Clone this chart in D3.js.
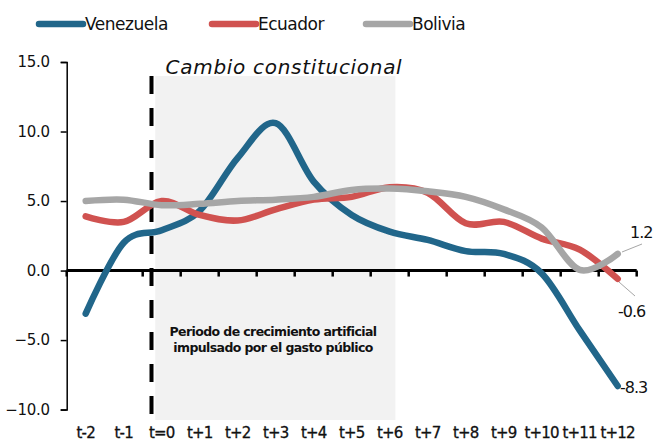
<!DOCTYPE html>
<html>
<head>
<meta charset="utf-8">
<script src="https://cdn.jsdelivr.net/npm/d3@7"></script>
<style>
  body { margin: 0; background: #fff; }
  svg { display: block; font-family: "DejaVu Sans", sans-serif; }
</style>
</head>
<body>
<div id="chart-area"></div>
<script>
// categories and series
const periods = ["t-2", "t-1", "t=0", "t+1", "t+2", "t+3", "t+4", "t+5", "t+6",
  "t+7", "t+8", "t+9", "t+10", "t+11", "t+12"];
const venezuela = [-3.1, 2.0, 2.9, 4.3, 8.1, 10.6, 6.4, 4.0, 2.8, 2.2, 1.4, 1.2, -0.2, -4.3, -8.3];
const ecuador = [3.9, 3.5, 5.0, 4.0, 3.6, 4.4, 5.1, 5.3, 6.0, 5.6, 3.4, 3.5, 2.3, 1.5, -0.6];
const bolivia = [5.0, 5.1, 4.7, 4.8, 5.0, 5.1, 5.3, 5.8, 5.9, 5.7, 5.3, 4.4, 3.1, 0.05, 1.2];
const yTicks = [-10, -5, 0, 5, 10, 15];

const series = [
  { name: "Venezuela", values: venezuela, color: "#21668a" },
  { name: "Ecuador", values: ecuador, color: "#d05250" },
  { name: "Bolivia", values: bolivia, color: "#a6a6a6" }
];

const width = 654, height = 441;

const svg = d3.select("#chart-area")
  .append("svg")
  .attr("width", width)
  .attr("height", height);

const xScale = d3.scaleBand().domain(periods).range([66.7, 636.7]);
const yScale = d3.scaleLinear().domain([-10, 15]).range([409.6, 62]);
const xc = d => xScale(d) + xScale.bandwidth() / 2;
const bw = xScale.bandwidth();

// shaded period
const shadeX0 = xc("t=0") - 0.17 * bw;
const shadeX1 = xc("t+6") + 0.15 * bw;
svg.append("rect")
  .attr("x", shadeX0)
  .attr("y", 76)
  .attr("width", shadeX1 - shadeX0)
  .attr("height", 420 - 76)
  .attr("fill", "#f2f2f2");

// y axis
const yAxis = svg.append("g")
  .attr("transform", "translate(66.7,0)")
  .call(d3.axisLeft(yScale).tickValues(yTicks).tickFormat(d3.format(".1f")).tickSize(6).tickPadding(11));
yAxis.select(".domain").attr("stroke", "#000").attr("stroke-width", 1.5);
yAxis.selectAll(".tick line").attr("stroke", "#000").attr("stroke-width", 1.5);
yAxis.selectAll("text").attr("font-size", 15).attr("fill", "#111")
  .attr("font-family", "DejaVu Sans, sans-serif").attr("letter-spacing", -0.3);

// zero line with ticks at category boundaries
const zeroG = svg.append("g");
zeroG.append("line")
  .attr("x1", 66.7).attr("x2", 636.7)
  .attr("y1", yScale(0)).attr("y2", yScale(0))
  .attr("stroke", "#000").attr("stroke-width", 3);
zeroG.selectAll(".bt")
  .data(periods.concat(["end"]))
  .enter().append("line")
  .attr("x1", (d, i) => 66.7 + i * bw)
  .attr("x2", (d, i) => 66.7 + i * bw)
  .attr("y1", yScale(0))
  .attr("y2", yScale(0) + 6)
  .attr("stroke", "#000").attr("stroke-width", 2.5);

// category labels
svg.append("g").selectAll("text")
  .data(periods)
  .enter().append("text")
  .attr("x", d => xc(d))
  .attr("y", 438)
  .attr("text-anchor", "middle")
  .attr("font-size", 15)
  .attr("letter-spacing", -0.8)
  .attr("stroke", "#111")
  .attr("stroke-width", 0.3)
  .attr("fill", "#111")
  .text(d => d);

// dashed marker
svg.append("line")
  .attr("x1", 151.5).attr("x2", 151.5)
  .attr("y1", 76).attr("y2", 420)
  .attr("stroke", "#000")
  .attr("stroke-width", 4)
  .attr("stroke-dasharray", "18,14");

// labels inside chart
svg.append("text")
  .attr("x", 284).attr("y", 74)
  .attr("text-anchor", "middle")
  .attr("font-size", 20)
  .attr("font-style", "italic")
  .attr("letter-spacing", 0.7)
  .attr("fill", "#111")
  .text("Cambio constitucional");

const note = svg.append("text")
  .attr("text-anchor", "middle")
  .attr("font-size", 12.5)
  .attr("font-weight", "bold")
  .attr("letter-spacing", -0.6)
  .attr("fill", "#111");
note.append("tspan").attr("x", 273).attr("y", 336).text("Periodo de crecimiento artificial");
note.append("tspan").attr("x", 273).attr("y", 352).text("impulsado por el gasto público");

// lines
const line = d3.line()
  .x((d, i) => xc(periods[i]))
  .y(d => yScale(d))
  .curve(d3.curveCardinal.tension(0));

svg.append("g").selectAll("path")
  .data(series)
  .enter().append("path")
  .attr("d", d => line(d.values))
  .attr("fill", "none")
  .attr("stroke", d => d.color)
  .attr("stroke-width", 6.5)
  .attr("stroke-linecap", "round")
  .attr("stroke-linejoin", "round");

// end labels with leader lines
const endLabels = [
  { text: "1.2", x: 630, y: 238, leader: [[622, 252], [642, 244]] },
  { text: "-0.6", x: 618, y: 317, leader: [[619, 282], [635, 296]] },
  { text: "-8.3", x: 620, y: 393, leader: null }
];
endLabels.forEach(e => {
  if (e.leader) {
    svg.append("line")
      .attr("x1", e.leader[0][0]).attr("y1", e.leader[0][1])
      .attr("x2", e.leader[1][0]).attr("y2", e.leader[1][1])
      .attr("stroke", "#a6a6a6").attr("stroke-width", 1);
  }
  svg.append("text")
    .attr("x", e.x)
    .attr("y", e.y)
    .attr("font-size", 16)
    .attr("letter-spacing", -1)
    .attr("fill", "#111")
    .text(e.text);
});

// legend
const legend = svg.append("g");
const legendX = [39, 212, 366];
series.forEach((s, i) => {
  legend.append("line")
    .attr("x1", legendX[i]).attr("x2", legendX[i] + 44)
    .attr("y1", 24).attr("y2", 24)
    .attr("stroke", s.color).attr("stroke-width", 6.5)
    .attr("stroke-linecap", "round");
  legend.append("text")
    .attr("x", legendX[i] + 46)
    .attr("y", 30)
    .attr("font-size", 17)
    .attr("letter-spacing", -0.5)
    .attr("fill", "#111")
    .text(s.name);
});
</script>
</body>
</html>
